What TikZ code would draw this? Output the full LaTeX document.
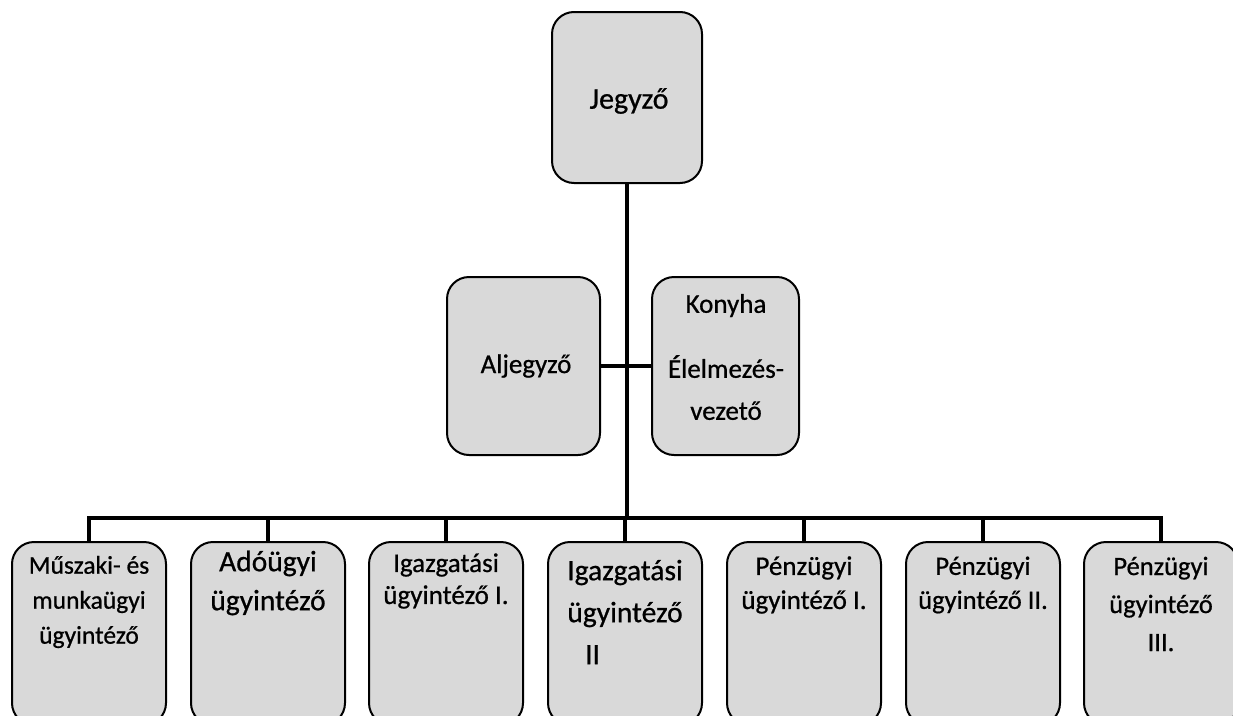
\documentclass[tikz,border=0pt]{standalone}
\usepackage{fontspec}
\setmainfont{Carlito}[FakeBold=0.7]
\begin{document}
\begin{tikzpicture}[x=1pt,y=-1pt,
  box/.style={draw=black,line width=2pt,fill=black!15,rounded corners=22pt,inner sep=0pt},
  topbox/.style={box,minimum width=150pt,minimum height=171pt},
  midbox/.style={box,minimum height=178pt},
  lowbox/.style={box,minimum width=154pt,minimum height=183pt},
  conn/.style={line width=4.5pt,line join=miter,line cap=rect},
  lbl/.style={align=center,inner sep=0pt},
]
\useasboundingbox (0,0) rectangle (1233,715);
% boxes
\node[topbox] (top) at (627,97.5) {};
\node[midbox,minimum width=153pt] (al) at (523.5,366) {};
\node[midbox,minimum width=147pt] (ko) at (725.5,366) {};
\foreach \i/\x in {1/89,2/268,3/446,4/625,5/804,6/983,7/1161}{
  \node[lowbox] (b\i) at (\x,633.5) {};
}
\coordinate (busL) at (89,518);
% connectors
\draw[conn] (top.south) -- (top.south |- busL);
\draw[conn] (al.east) -- (ko.west);
\draw[conn] (b1.north) -- (b1.north |- busL) -- (b7.north |- busL) -- (b7.north);
\foreach \i in {2,...,6}{
  \draw[conn] (b\i.north) -- (b\i.north |- busL);
}
% labels
\node[lbl,font=\fontsize{30}{36}\selectfont] (ttop) at (629,101) {Jegyző};
\node[lbl,font=\fontsize{27}{33}\selectfont] (tal) at (526,366) {Aljegyző};
\node[lbl,font=\fontsize{27}{42}\selectfont] (tko) at (726,357) {Konyha\\[23pt]Élelmezés-\\vezető};
\node[lbl,font=\fontsize{25.5}{35}\selectfont] (t1) at (89,602) {Műszaki- és\\munkaügyi\\ügyintéző};
\node[lbl,font=\fontsize{29.5}{39}\selectfont] (t2) at (268,583) {Adóügyi\\ügyintéző};
\node[lbl,font=\fontsize{27}{32}\selectfont] (t3) at (446,581) {Igazgatási\\ügyintéző I.};
\node[lbl,font=\fontsize{29.5}{42}\selectfont] (t4) at (625,612) {Igazgatási\\ügyintéző\\\hspace*{-2.2em}II};
\node[lbl,font=\fontsize{27}{34}\selectfont] (t5) at (804,585) {Pénzügyi\\ügyintéző I.};
\node[lbl,font=\fontsize{26.5}{34}\selectfont] (t6) at (983,585) {Pénzügyi\\ügyintéző II.};
\node[lbl,font=\fontsize{26.5}{38}\selectfont] (t7) at (1161,604) {Pénzügyi\\ügyintéző\\III.};
\end{tikzpicture}
\end{document}
